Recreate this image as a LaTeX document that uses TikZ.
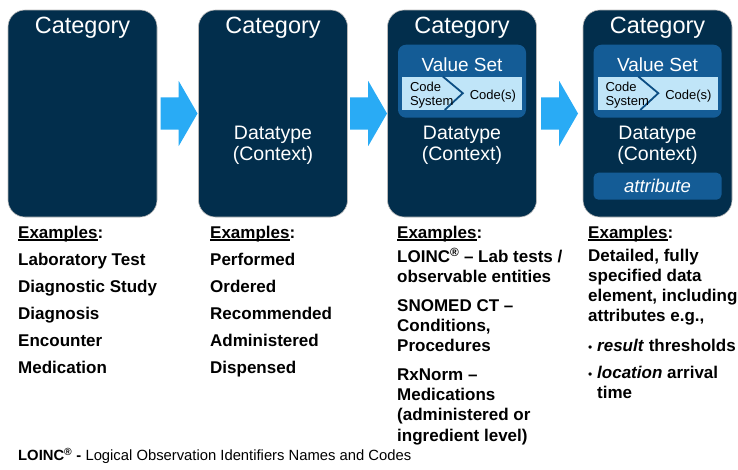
\documentclass[tikz,border=0pt]{standalone}
\usepackage{fontspec}
\setmainfont{Liberation Sans}
\usetikzlibrary{positioning,shapes.arrows}
\definecolor{navy}{RGB}{2,46,76}
\definecolor{vsblue}{RGB}{20,92,150}
\definecolor{panelblue}{RGB}{192,229,248}
\definecolor{arrowblue}{RGB}{41,171,245}
\definecolor{chevblue}{RGB}{12,78,132}
\newcommand{\fsz}[2]{\fontsize{#1}{#2}\selectfont}
\newcommand{\exul}[1]{\setbox0=\hbox{#1}\rlap{\rule[-2.2pt]{\wd0}{1.1pt}}\box0}
\newcommand{\mybul}{\makebox[9pt][l]{\mdseries\fsz{12}{12}\textbullet}}
\tikzset{mybox/.style={draw=gray!55,line width=0.6pt,fill=navy,rounded corners=17pt,minimum width=149pt,minimum height=207pt,inner sep=0pt}}
\tikzset{myarrow/.style={single arrow,fill=arrowblue,minimum height=37pt,inner xsep=0pt,inner ysep=16pt,single arrow head extend=16.5pt,single arrow tip angle=120}}
\tikzset{mycat/.style={text=white,font=\fsz{23.5}{26},anchor=base,inner sep=0pt}}
\tikzset{mydata/.style={text=white,font=\fsz{19.5}{21},align=center,anchor=base,inner sep=0pt}}
\tikzset{myvs/.style={fill=vsblue,rounded corners=8pt,minimum width=128pt,minimum height=73pt,inner sep=0pt}}
\tikzset{mypanel/.style={fill=panelblue,minimum width=120pt,minimum height=33pt,inner sep=0pt}}
\tikzset{mychev/.style={chevblue,line width=1.8pt}}
\tikzset{mysmall/.style={font=\fsz{13}{14.3},align=left,inner sep=0pt}}
\tikzset{myhead/.style={font=\bfseries\fsz{17}{20},anchor=base west,inner sep=0pt}}
\tikzset{mylist/.style={font=\bfseries\fsz{17}{20.2},align=left,anchor=base west,inner sep=0pt}}

\begin{document}
\begin{tikzpicture}[x=1pt,y=-1pt]
	\useasboundingbox (0,0) rectangle (738,469);

	\node[mybox] (cat1) at (82.5,113.5) {};
	\node[mybox] (cat2) at (273,113.5) {};
	\node[mybox] (cat3) at (462,113.5) {};
	\node[mybox] (cat4) at (657.5,113.5) {};

	\node[myarrow,right=3pt of cat1] (arr1) {};
	\node[myarrow,right=2pt of cat2] (arr2) {};
	\node[myarrow,right=4pt of cat3] (arr3) {};

	\foreach \i in {1,...,4}
		\node[mycat] (cat\i-t) at ([yshift=-23.3pt]cat\i.north) {Category};

	% base is the last line
	\foreach \i in {2,...,4}
		\node[mydata] (dt\i) at ([yshift=-150.5pt]cat\i.north) {Datatype\\(Context)};

	% Value set
	\foreach \i in {3,4} {
		\node[myvs] (vs\i) at ([yshift=-71.5pt]cat\i.north) {};
		\node[white,font=\fsz{19}{21},anchor=base,inner sep=0pt] (vs\i-t) at ([yshift=-62pt]cat\i.north) {Value Set};
		\node[mypanel] (cs\i) at ([yshift=-83.5pt]cat\i.north) {};
		\draw[mychev] ([xshift=41pt]cs\i.north west) -- ([xshift=61pt]cs\i.west) -- ([xshift=43pt]cs\i.south west);
		\node[mysmall,anchor=base west] (sys\i) at ([xshift=8pt,yshift=-12.5pt]cs\i.west) {Code\\System};
		\node[mysmall,anchor=base east] (code\i) at ([xshift=-6pt,yshift=-6.5pt]cs\i.east) {Code(s)};
	}

	\node[myvs,minimum height=27pt,rounded corners=5pt,text=white,font=\itshape\fsz{18.5}{20}] (att4) at ([yshift=-176.5pt]cat4.north) {attribute};

	% Examples
	\node[myhead] (ex1) at (18,238.3) {\exul{Examples}:};
	\node[myhead] (ex2) at (210,238.3) {\exul{Examples}:};
	\node[myhead] (ex3) at (397,238.3) {\exul{Examples}:};
	\node[myhead] (ex4) at (588,238.3) {\exul{Examples}:};

	\node[mylist] (list1) at (18,373.3) {Laboratory Test\\[6.8pt] Diagnostic Study\\[6.8pt] Diagnosis\\[6.8pt] Encounter\\[6.8pt] Medication};
	\node[mylist] (list2) at (210,373.3) {Performed\\[6.8pt] Ordered\\[6.8pt] Recommended\\[6.8pt] Administered\\[6.8pt] Dispensed};
	\node[mylist] (list3) at (397,441) {LOINC\textsuperscript{\textregistered} -- Lab tests /\\ observable entities\\[8.4pt] SNOMED CT --\\ Conditions,\\ Procedures\\[8.4pt] RxNorm --\\ Medications\\ (administered or\\ ingredient level)};
	\node[mylist] (list4) at (588,398.3) {Detailed, fully\\ specified data\\ element, including\\ attributes e.g.,\\[9.2pt] \mybul\textit{result} thresholds\\[6.6pt] \mybul\textit{location} arrival\\ \hspace*{9pt}time};

	\node[font=\fsz{14.8}{16},anchor=base west,inner sep=0pt] (foot) at (18,460.7) {\textbf{LOINC\textsuperscript{\textregistered} -} Logical Observation Identifiers Names and Codes};

\end{tikzpicture}
\end{document}
